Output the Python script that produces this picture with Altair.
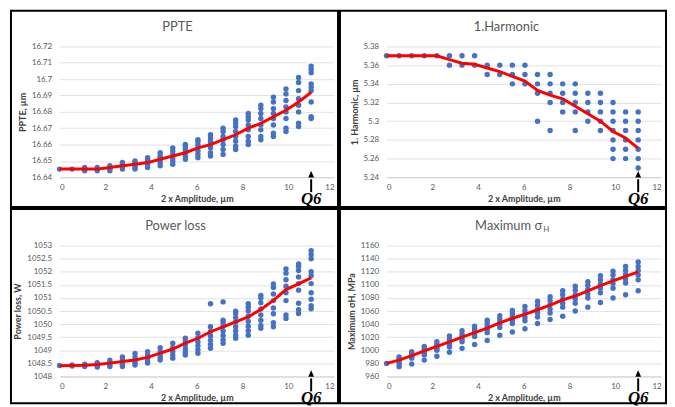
import altair as alt
import pandas as pd

X = [0, 0.55, 1.1, 1.65, 2.2, 2.75, 3.3, 3.85, 4.4, 4.95, 5.5, 6.05,
     6.6, 7.15, 7.7, 8.25, 8.8, 9.35, 9.9, 10.45, 11]

PPTE_PTS = [
    [16.645], [16.645], [16.644, 16.645, 16.646], [16.644, 16.645, 16.646],
    [16.644, 16.645, 16.646, 16.647],
    [16.645, 16.646, 16.647, 16.648, 16.649],
    [16.645, 16.646, 16.647, 16.648, 16.649, 16.650],
    [16.646, 16.648, 16.649, 16.650, 16.651, 16.652],
    [16.647, 16.649, 16.651, 16.652, 16.653, 16.655],
    [16.648, 16.650, 16.652, 16.654, 16.656, 16.658],
    [16.651, 16.653, 16.655, 16.657, 16.659, 16.660],
    [16.652, 16.654, 16.656, 16.658, 16.660, 16.662, 16.663],
    [16.653, 16.655, 16.658, 16.660, 16.662, 16.664, 16.666],
    [16.654, 16.657, 16.660, 16.663, 16.665, 16.668, 16.670],
    [16.657, 16.659, 16.662, 16.665, 16.668, 16.671, 16.673, 16.675],
    [16.660, 16.662, 16.665, 16.669, 16.672, 16.675, 16.677, 16.679],
    [16.663, 16.665, 16.669, 16.672, 16.676, 16.679, 16.682, 16.684],
    [16.665, 16.667, 16.672, 16.676, 16.679, 16.682, 16.686, 16.689],
    [16.668, 16.670, 16.676, 16.680, 16.683, 16.687, 16.691, 16.694],
    [16.671, 16.673, 16.680, 16.684, 16.688, 16.693, 16.698, 16.701],
    [16.676, 16.677, 16.686, 16.693, 16.695, 16.697, 16.704, 16.706, 16.708],
]
PPTE_LINE = [16.645, 16.645, 16.645, 16.645, 16.646, 16.647, 16.648, 16.649,
             16.651, 16.653, 16.655, 16.658, 16.660, 16.663, 16.666, 16.670,
             16.673, 16.677, 16.681, 16.686, 16.692]

HARM_PTS = [
    [5.37], [5.37], [5.37], [5.37], [5.37],
    [5.37, 5.36], [5.37, 5.36], [5.37, 5.36],
    [5.36, 5.35], [5.36, 5.35],
    [5.36, 5.35, 5.34], [5.36, 5.35, 5.34],
    [5.35, 5.34, 5.33, 5.30],
    [5.35, 5.34, 5.33, 5.32, 5.29],
    [5.34, 5.33, 5.32, 5.31],
    [5.34, 5.33, 5.32, 5.31, 5.29],
    [5.33, 5.32, 5.31, 5.30],
    [5.33, 5.32, 5.31, 5.30, 5.29],
    [5.32, 5.31, 5.30, 5.29, 5.28, 5.27, 5.26],
    [5.31, 5.30, 5.29, 5.28, 5.27, 5.26],
    [5.31, 5.30, 5.29, 5.28, 5.27, 5.26, 5.25],
]
HARM_LINE = [5.37, 5.37, 5.37, 5.37, 5.37, 5.366, 5.362, 5.361, 5.357, 5.353,
             5.348, 5.343, 5.333, 5.328, 5.324, 5.316, 5.308, 5.300, 5.289,
             5.282, 5.271]

POWER_PTS = [
    [1048.42], [1048.40, 1048.44], [1048.38, 1048.42, 1048.47],
    [1048.36, 1048.42, 1048.48, 1048.53],
    [1048.38, 1048.45, 1048.52, 1048.62],
    [1048.38, 1048.46, 1048.55, 1048.65, 1048.75],
    [1048.44, 1048.52, 1048.62, 1048.74, 1048.88],
    [1048.51, 1048.60, 1048.70, 1048.82, 1048.95],
    [1048.63, 1048.72, 1048.83, 1048.95, 1049.10],
    [1048.70, 1048.82, 1048.95, 1049.10, 1049.27],
    [1048.82, 1048.93, 1049.05, 1049.20, 1049.33, 1049.46],
    [1048.89, 1049.02, 1049.17, 1049.32, 1049.48, 1049.65],
    [1049.08, 1049.22, 1049.38, 1049.55, 1049.72, 1049.90, 1050.78],
    [1049.27, 1049.40, 1049.57, 1049.74, 1049.92, 1050.05, 1050.15, 1050.85],
    [1049.46, 1049.58, 1049.74, 1049.90, 1050.08, 1050.25, 1050.40, 1050.49],
    [1049.58, 1049.75, 1049.92, 1050.10, 1050.30, 1050.50, 1050.65, 1050.78],
    [1049.84, 1049.95, 1050.15, 1050.35, 1050.58, 1050.82, 1051.00, 1051.10],
    [1049.90, 1050.05, 1050.40, 1050.62, 1050.90, 1051.15, 1051.40, 1051.54],
    [1050.22, 1050.35, 1050.90, 1051.20, 1051.45, 1051.70, 1051.95, 1052.11],
    [1050.41, 1050.55, 1050.80, 1051.30, 1051.55, 1051.80, 1052.05, 1052.20, 1052.30],
    [1050.59, 1050.70, 1050.95, 1051.20, 1051.55, 1051.85, 1052.00, 1052.50, 1052.65, 1052.81],
]
POWER_LINE = [1048.41, 1048.42, 1048.43, 1048.46, 1048.51, 1048.57, 1048.63,
              1048.73, 1048.89, 1049.05, 1049.27, 1049.46, 1049.71, 1049.90,
              1050.09, 1050.28, 1050.56, 1050.91, 1051.32, 1051.54, 1051.77]

SIGMA_PTS = [
    [980],
    [975, 979, 982, 985, 988, 990],
    [979, 988, 990, 993, 995, 998],
    [985, 993, 996, 999, 1002, 1006],
    [991, 1000, 1003, 1006, 1009, 1013],
    [997, 1005, 1009, 1013, 1017, 1022],
    [1003, 1013, 1017, 1021, 1025, 1030],
    [1009, 1021, 1025, 1029, 1033, 1037],
    [1015, 1027, 1032, 1036, 1041, 1046],
    [1023, 1035, 1039, 1044, 1048, 1053],
    [1028, 1041, 1046, 1051, 1056, 1061],
    [1033, 1045, 1050, 1056, 1061, 1067],
    [1041, 1051, 1057, 1063, 1069, 1075],
    [1047, 1057, 1063, 1070, 1076, 1082],
    [1052, 1066, 1072, 1078, 1085, 1091],
    [1060, 1072, 1079, 1085, 1092, 1098],
    [1066, 1080, 1086, 1093, 1099, 1105],
    [1073, 1088, 1095, 1101, 1108, 1114],
    [1080, 1095, 1102, 1108, 1115, 1121],
    [1085, 1103, 1109, 1116, 1122, 1128],
    [1091, 1108, 1115, 1122, 1128, 1135],
]
SIGMA_LINE = [980, 985, 992, 999, 1006, 1013, 1020, 1027, 1034, 1042, 1049,
              1055, 1062, 1069, 1077, 1083, 1091, 1099, 1106, 1113, 1120]

X_TICKS = [0, 2, 4, 6, 8, 10, 12]
PPTE_TICKS = [16.64, 16.65, 16.66, 16.67, 16.68, 16.69, 16.70, 16.71, 16.72]
HARM_TICKS = [5.24, 5.26, 5.28, 5.30, 5.32, 5.34, 5.36, 5.38]
POWER_TICKS = [1048, 1048.5, 1049, 1049.5, 1050, 1050.5, 1051, 1051.5, 1052, 1052.5, 1053]
SIGMA_TICKS = [960, 980, 1000, 1020, 1040, 1060, 1080, 1100, 1120, 1140, 1160]

W, H = 277, 132
FONT = "Lato"


def long_df(pts):
    rows = []
    for x, ys in zip(X, pts):
        for y in ys:
            rows.append({"x": x, "y": y})
    return pd.DataFrame(rows)


def panel(pts, line, titles, ytitle, ydomain, yticks, yfmt, frame):
    xenc = alt.X("x:Q", scale=alt.Scale(domain=[0, 12], nice=False),
                 axis=alt.Axis(values=X_TICKS, title="2 x Amplitude, µm",
                               grid=False, ticks=False, domainColor="#d0d0d0",
                               labelFontSize=8, labelColor="#595959",
                               labelPadding=6, titleFontSize=9,
                               titleFontWeight="bold", titleColor="#404040",
                               titlePadding=3, labelFont=FONT, titleFont=FONT))
    yenc = alt.Y("y:Q", scale=alt.Scale(domain=ydomain, nice=False, zero=False),
                 axis=alt.Axis(values=yticks,
                               labelExpr="format(datum.value, '" + yfmt + "')",
                               title=ytitle,
                               grid=True, gridColor="#e2e2e2", domain=False,
                               ticks=False, labelFontSize=8, labelColor="#595959",
                               labelPadding=8, titleFontSize=9,
                               titleFontWeight="bold", titleColor="#404040",
                               titlePadding=4, labelFont=FONT, titleFont=FONT))
    pts_layer = alt.Chart(long_df(pts)).mark_circle(
        size=30, color="#4472C4", opacity=1).encode(x=xenc, y=yenc)
    line_df = pd.DataFrame({"x": X, "y": line})
    line_layer = alt.Chart(line_df).mark_line(
        color="#FF0000", strokeWidth=3).encode(x=xenc, y=yenc)

    one = pd.DataFrame({"a": [0]})
    fx0, fx1, fy0, fy1 = frame
    frame_layer = alt.Chart(one).mark_rect(
        fill="white", fillOpacity=0, stroke="#000000", strokeWidth=2).encode(
        x=alt.value(fx0), x2=alt.value(fx1), y=alt.value(fy0), y2=alt.value(fy1))

    layers = [frame_layer]
    for txt, tx, ty, fs, al in titles:
        layers.append(alt.Chart(one).mark_text(
            text=txt, fontSize=fs, color="#595959", font=FONT, align=al).encode(
            x=alt.value(tx), y=alt.value(ty)))
    layers += [pts_layer, line_layer]

    arrow_rule = alt.Chart(one).mark_rule(color="black", strokeWidth=2).encode(
        x=alt.datum(11), y=alt.value(H + 2), y2=alt.value(H + 15))
    arrow_head = alt.Chart(one).mark_point(
        shape="M -0.45 0.5 L 0 -0.5 L 0.45 0.5 Z", filled=True, color="black",
        opacity=1, size=169).encode(x=alt.datum(11), y=alt.value(H - 3))
    q6 = alt.Chart(one).mark_text(
        text="Q6", font="Liberation Serif", fontStyle="italic", fontWeight="bold",
        fontSize=17, color="black").encode(x=alt.datum(11), y=alt.value(H + 22))
    layers += [arrow_rule, arrow_head, q6]
    return alt.layer(*layers).properties(width=W, height=H)


p1 = panel(PPTE_PTS, PPTE_LINE, [("PPTE", 119, -20, 13, "center")],
           "PPTE, µm", [16.64, 16.72], PPTE_TICKS, ".2~f", (-49, 281, -36, 162))
p2 = panel(HARM_PTS, HARM_LINE, [("1.Harmonic", 121, -20, 13, "center")],
           "1. Harmonic, µm", [5.24, 5.38], HARM_TICKS, ".2~f", (-47, 282, -36, 162))
p3 = panel(POWER_PTS, POWER_LINE, [("Power loss", 117, -20, 13, "center")],
           "Power loss, W", [1048, 1053], POWER_TICKS, ".1~f", (-49, 281, -37, 159))
p4 = panel(SIGMA_PTS, SIGMA_LINE,
           [("Maximum σ", 157, -20, 13, "right"), ("H", 158, -16, 8, "left")],
           "Maximum σH, MPa", [960, 1160], SIGMA_TICKS, "d", (-47, 282, -37, 159))

chart = alt.concat(p1, p2, p3, p4, columns=2, spacing={"row": 69, "column": 53},
                   bounds="flush").properties(
    padding={"left": 2, "top": 0, "right": 0, "bottom": 0},
    background="white",
).configure_view(strokeWidth=0)

chart.save("out.html", embed_options={"renderer": "svg", "actions": False})
